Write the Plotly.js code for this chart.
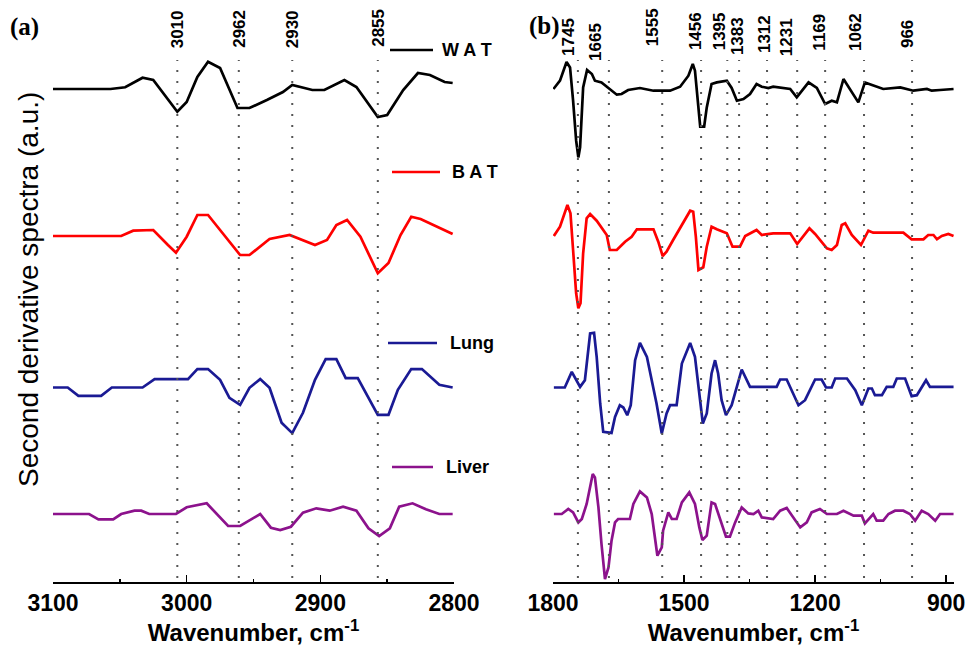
<!DOCTYPE html>
<html><head><meta charset="utf-8">
<script src="https://cdn.plot.ly/plotly-3.0.1.min.js"></script>
<style>html,body{margin:0;padding:0;background:#fff}</style>
</head><body><div id="chart" style="width:971px;height:651px"></div>
<script>
// ---------- data (a.u., relative to each spectrum's baseline) ----------
const seriesNames = ['WAT', 'BAT', 'Lung', 'Liver'];

// Panel (a): 3100-2800 cm-1
const watA_x = [3100,3057,3046,3033,3025,3007,3000,2992,2984,2975,2962,2953,2940,2928,2921,2906,2897,2882,2873,2857,2850,2838,2827,2818,2807,2801];
const watA_y = [0,0,0.17,1.13,0.9,-2.27,-1.3,1.2,2.73,2.1,-1.9,-1.9,-1.1,-0.3,0.4,-0.1,-0.1,0.9,0.2,-2.8,-2.6,-0.1,1.6,1.4,0.7,0.6];

const batA_x = [3100,3049,3040,3025,3014,3008,3000,2992,2984,2970,2960,2953,2938,2923,2913,2904,2895,2888,2880,2870,2857,2849,2840,2832,2825,2810,2801];
const batA_y = [0,0,0.53,0.6,-0.9,-1.67,-0.07,2.1,2.1,-0.23,-1.9,-1.9,-0.3,0.1,-0.4,-0.9,-0.4,1.1,1.6,-0.07,-3.73,-2.7,0.1,1.93,1.7,0.8,0.2];

const lungA_x = [3100,3089,3081,3064,3056,3033,3024,2999,2992,2984,2975,2968,2960,2953,2945,2938,2929,2921,2913,2904,2896,2888,2881,2872,2857,2849,2842,2832,2824,2811,2801];
const lungA_y = [0,0,-0.83,-0.83,0,0,0.84,0.84,1.84,1.84,0.77,-1.03,-1.73,-0.03,0.84,-0.03,-3.53,-4.56,-2.53,0.77,2.84,2.84,0.94,0.94,-2.73,-2.73,-0.23,1.84,1.84,0.27,0];

const liverA_x = [3100,3073,3066,3055,3049,3039,3034,3028,3008,3000,2985,2978,2969,2960,2953,2945,2937,2930,2922,2913,2903,2893,2883,2873,2864,2856,2848,2841,2831,2821,2811,2801];
const liverA_y = [0,0,-0.53,-0.53,0,0.33,0.33,0,0,0.67,1.07,0.07,-1.2,-1.2,-0.67,0,-1.37,-1.6,-1.27,0.13,0.57,0.33,0.73,0.33,-1.43,-2.2,-1.43,0.73,1.07,0.47,0,0];

// Panel (b): 1800-900 cm-1
const watB_x = [1799,1784,1769,1761,1754,1747,1742,1738,1731,1722,1711,1704,1689,1670,1654,1643,1628,1601,1570,1532,1509,1490,1480,1475,1467,1463,1454,1448,1437,1425,1402,1391,1379,1364,1349,1334,1322,1307,1296,1257,1242,1215,1196,1177,1162,1150,1135,1120,1101,1086,1044,1005,975,944,933,914,883];
const watB_y = [0,0.83,2.7,2.16,-1.17,-5.17,-6.84,-5.84,0.16,1.9,1.5,0.83,0.66,0,-0.57,-0.5,-0.1,0.1,-0.17,-0.17,0.23,1.33,2.5,1.83,-2.17,-3.77,-3.77,-1.84,0.5,0.66,0.83,0.1,-1.17,-1.0,-0.5,0.5,0.23,0.1,0.23,0,-0.84,0.66,0.1,-1.5,-1.17,-1.34,1.0,0,-1.34,0.66,0,0.16,-0.17,0,-0.17,-0.1,0];

const batB_x = [1798,1784,1767,1760,1754,1747,1742,1737,1731,1723,1715,1700,1677,1670,1654,1635,1620,1608,1570,1559,1549,1540,1525,1502,1486,1479,1473,1467,1456,1448,1437,1425,1402,1389,1372,1360,1334,1322,1296,1257,1241,1213,1200,1173,1162,1150,1139,1131,1116,1095,1078,1067,998,979,952,941,929,921,910,895,883];
const batB_y = [0,0.93,3.1,2.27,-1.4,-5.73,-7.23,-6.73,-1.73,1.77,2.2,1.53,0.1,-1.4,-1.4,-0.57,-0.07,0.67,0.67,-0.57,-2.0,-1.57,-0.4,1.27,2.53,2.43,-0.07,-3.4,-3.13,-1.07,0.93,0.67,0.27,-1.07,-1.07,0,0.6,0.1,0.27,0.27,-0.8,0.77,0.2,-1.23,-1.4,-0.9,1.1,1.27,0.1,-0.9,0.53,0.33,0.33,-0.33,-0.33,0.1,0.1,-0.33,0,0.2,0];

const lungB_x = [1798,1773,1757,1747,1738,1727,1715,1706,1700,1692,1685,1666,1658,1647,1639,1630,1622,1612,1601,1585,1574,1563,1551,1540,1532,1517,1505,1486,1475,1465,1457,1448,1437,1429,1422,1414,1404,1391,1379,1368,1349,1288,1280,1265,1238,1223,1200,1185,1175,1162,1154,1127,1108,1093,1078,1070,1063,1047,1036,1021,1013,994,979,967,946,937,883];
const lungB_y = [0,0,1.56,0.73,0.06,0.73,5.4,5.46,3.06,-1.6,-4.44,-4.54,-2.94,-1.77,-2.0,-2.77,-1.77,2.73,4.46,3.06,0.73,-1.6,-4.6,-2.6,-1.77,-1.77,2.4,4.46,3.06,-0.6,-3.6,-2.6,1.4,2.73,1.4,-1.27,-2.77,-1.77,0.06,1.8,0.06,0.06,0.8,0.8,-1.77,-1.27,0.8,0.8,0,0,0.9,0.9,-0.27,-1.77,-0.1,-0.1,-0.77,-0.77,0.06,0.06,0.9,0.9,-0.87,-0.77,0.73,0.06,0.06];

const liverB_x = [1798,1780,1765,1754,1742,1734,1723,1709,1704,1696,1689,1681,1673,1666,1658,1651,1624,1616,1601,1585,1574,1566,1561,1551,1548,1536,1528,1517,1505,1488,1475,1465,1458,1448,1437,1429,1414,1404,1395,1383,1368,1353,1341,1330,1322,1296,1280,1265,1234,1219,1208,1189,1173,1150,1135,1112,1093,1086,1067,1059,1044,1032,1017,998,983,971,956,941,925,914,883];
const liverB_y = [0,0,0.5,0.16,-0.84,-0.5,1.0,4.0,3.66,0.66,-3.0,-6.5,-5.34,-2.67,-0.84,-0.5,-0.5,1.0,2.26,1.66,0,-2.67,-4.17,-3.34,-1.67,0.16,-0.5,-0.5,1.16,2.16,1.0,-1.34,-2.6,-2.17,1.16,1.0,-0.84,-2.27,-2.27,-0.84,0.66,0.06,0,0.33,-0.34,-0.5,0.33,0.6,-1.34,-0.84,0.16,0.5,0,0,0.33,-0.17,-0.17,-0.94,0,-0.67,-0.67,0,0.33,0.33,0,-0.67,0.33,0,-0.67,0,0];

// Marked band positions (dotted lines) and their labels
const peaksA_pos = [3007, 2961, 2921, 2857];
const peaksA_lab = ['3010', '2962', '2930', '2855'];
const peaksB_pos = [1743, 1672, 1550, 1461, 1401, 1374, 1310, 1241, 1177, 1088, 978];
const peaksB_lab = ['1745', '1665', '1555', '1456', '1395', '1383', '1312', '1231', '1169', '1062', '966'];

// x tick labels
const ticksA = [3100, 3000, 2900, 2800];
const ticksB = [1800, 1500, 1200, 900];

// ---------- styling ----------
const colors = ['#000000', '#ff0000', '#1a1a94', '#8c128c'];
const offsets = [49.3, 34.6, 19.45, 6.8];   // vertical stacking of spectra
const PLOT_H = 582;                            // plot-area height in px
const W = 971;
const SANS = 'Liberation Sans, Arial, sans-serif';

const panelA = [[watA_x, watA_y], [batA_x, batA_y], [lungA_x, lungA_y], [liverA_x, liverA_y]];
const panelB = [[watB_x, watB_y], [batB_x, batB_y], [lungB_x, lungB_y], [liverB_x, liverB_y]];

const traces = [];
panelA.forEach((d, i) => traces.push({
  x: d[0], y: d[1].map(v => v + offsets[i]), xaxis: 'x', yaxis: 'y',
  type: 'scatter', mode: 'lines', name: seriesNames[i],
  line: {color: colors[i], width: 2.7}, hoverinfo: 'skip'
}));
panelB.forEach((d, i) => traces.push({
  x: d[0], y: d[1].map(v => v + offsets[i]), xaxis: 'x2', yaxis: 'y',
  type: 'scatter', mode: 'lines', name: seriesNames[i], showlegend: false,
  line: {color: colors[i], width: 2.7}, hoverinfo: 'skip'
}));

const py = p => (PLOT_H - p) / PLOT_H;   // pixel row -> paper y

const shapes = [];
const annotations = [];

// dotted guide lines
function addPeaks(pos, lab, xref, labelBottoms, xshift) {
  pos.forEach((p, i) => {
    shapes.push({type: 'line', xref: xref, yref: 'paper', x0: p, x1: p,
      y0: py(578), y1: py(60), line: {color: '#555', width: 2, dash: '2px,9px'}});
    annotations.push({xref: xref, yref: 'paper', x: p, y: py(labelBottoms[i]),
      text: lab[i], showarrow: false, textangle: -90, xanchor: 'center', yanchor: 'bottom',
      xshift: xshift[i], font: {family: SANS, size: 17, color: '#000', weight: 'bold'}});
  });
}
addPeaks(peaksA_pos, peaksA_lab, 'x', [50, 50, 50, 49], [0, 0, 0, 0]);
addPeaks(peaksB_pos, peaksB_lab, 'x2', [58, 63, 48, 52, 52, 57, 55, 58, 53, 53, 50],
  [-9, -13, -10, -6, -8, -1, -3, -10, -6, -9, -5]);

// legend (panel a)
const legendRows = [50, 172, 343, 467];
const legendLine = [[390, 433], [392, 440], [388, 437], [392, 433]];
const legendText = ['W A T', 'B A T', 'Lung', 'Liver'];
const legendTextX = [440, 450, 448, 444];
legendRows.forEach((r, i) => {
  shapes.push({type: 'line', xref: 'paper', yref: 'paper',
    x0: legendLine[i][0] / W, x1: legendLine[i][1] / W, y0: py(r), y1: py(r),
    line: {color: colors[i], width: 2.7}});
  annotations.push({xref: 'paper', yref: 'paper', x: legendTextX[i] / W, y: py(r),
    xanchor: 'left', yanchor: 'middle', showarrow: false, text: legendText[i],
    font: {family: SANS, size: 18, color: '#000', weight: 'bold'}});
});

// y title and panel letters
annotations.push({xref: 'paper', yref: 'paper', x: 28 / W, y: py(290), text: 'Second derivative spectra (a.u.)',
  showarrow: false, textangle: -90, xanchor: 'center', yanchor: 'middle',
  font: {family: SANS, size: 28, color: '#000'}});
annotations.push({xref: 'paper', yref: 'paper', x: 24 / W, y: py(27), text: '(a)', showarrow: false,
  xanchor: 'center', yanchor: 'middle', font: {family: 'Liberation Serif, Times New Roman, serif', size: 25, color: '#000', weight: 'bold'}});
annotations.push({xref: 'paper', yref: 'paper', x: 544 / W, y: py(26), text: '(b)', showarrow: false,
  xanchor: 'center', yanchor: 'middle', font: {family: 'Liberation Serif, Times New Roman, serif', size: 25, color: '#000', weight: 'bold'}});

function xAxis(domain, range, tick0, dtick, minorD) {
  return {
    domain: domain, range: range, anchor: 'y',
    tickmode: 'linear', tick0: tick0, dtick: dtick,
    ticks: 'inside', ticklen: 7, tickwidth: 1.5, tickcolor: '#000',
    minor: {dtick: minorD, ticks: 'inside', ticklen: 3, tickwidth: 1.5, tickcolor: '#000', showgrid: false},
    showline: true, linecolor: '#000', linewidth: 1.5,
    showgrid: false, zeroline: false,
    tickfont: {family: SANS, size: 23, color: '#000', weight: 'bold'},
    title: {text: 'Wavenumber, cm<sup>-1</sup>', standoff: 3,
      font: {family: SANS, size: 24, color: '#000', weight: 'bold'}}
  };
}

const layout = {
  width: W, height: 651,
  margin: {l: 0, r: 0, t: 0, b: 69},
  paper_bgcolor: '#ffffff', plot_bgcolor: '#ffffff',
  showlegend: false,
  xaxis: xAxis([53 / W, 454 / W], [ticksA[0], ticksA[3]], ticksA[3], ticksA[0] - ticksA[1], 50),
  xaxis2: xAxis([553 / W, 954 / W], [1800, 882], ticksB[3], ticksB[0] - ticksB[1], 150),
  yaxis: {range: [0, PLOT_H / 10], visible: false, fixedrange: true},
  shapes: shapes,
  annotations: annotations
};

Plotly.newPlot('chart', traces, layout, {displayModeBar: false, staticPlot: true});
</script>
</body></html>
